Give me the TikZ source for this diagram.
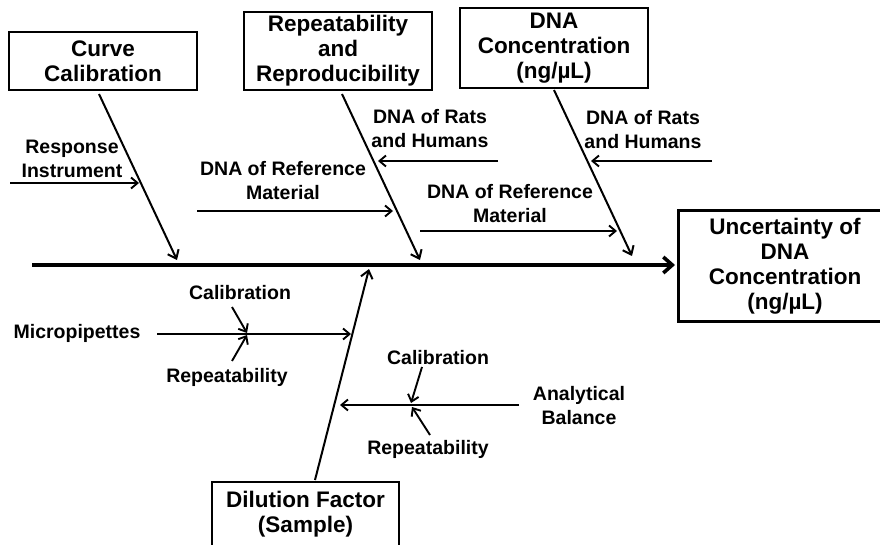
\documentclass[tikz,border=0pt]{standalone}
\usepackage{fontspec}
\setmainfont{Liberation Sans}
\usetikzlibrary{arrows.meta}
\begin{document}
\begin{tikzpicture}[x=1pt,y=-1pt,
  boxfont/.style={font=\fontsize{22.5}{25}\selectfont\bfseries},
  labfont/.style={font=\fontsize{19.5}{24}\selectfont\bfseries},
  causebox/.style={draw, line width=2.3pt, boxfont, align=center, inner sep=0pt},
  lab/.style={labfont, align=center, inner sep=0pt},
  bone/.style={line width=2pt, -{Straight Barb[length=7.5pt,width=12pt]}},
  sub/.style={line width=1.9pt, -{Straight Barb[length=6.5pt,width=11pt]}},
  spine/.style={line width=3.6pt, -{Straight Barb[length=9pt,width=16pt]}}
]
\useasboundingbox (0,0) rectangle (880,545);
\clip (0,0) rectangle (880,545);
\fill[white] (0,0) rectangle (880,545);

% boxes
\node[causebox, minimum width=188pt, minimum height=58pt] (cc) at (103,61) {Curve\\Calibration};
\node[causebox, minimum width=188pt, minimum height=78pt] (rr) at (338,51) {Repeatability\\and\\Reproducibility};
\node[causebox, minimum width=188pt, minimum height=80pt] (dc) at (554,48) {DNA\\Concentration\\(ng/µL)};
\node[causebox, line width=3pt, minimum width=214pt, minimum height=110pt] (eff) at (785,266) {Uncertainty of\\DNA\\Concentration\\(ng/µL)};
\node[causebox, minimum width=187pt, minimum height=65pt] (df) at (305.5,514.5) {Dilution Factor\\(Sample)};

% spine
\coordinate (sp0) at (32,265);
\coordinate (sp1) at (675,265);
\draw[spine] (sp0) -- (sp1);

% main bones
\coordinate (ccA) at (99,94);   \coordinate (ccB) at (177,260);
\coordinate (rrA) at (342,94);  \coordinate (rrB) at (420,260);
\coordinate (dcA) at (554,90);  \coordinate (dcB) at (632,256);
\coordinate (dfA) at (315,480); \coordinate (dfB) at (369,269);
\draw[bone] (ccA) -- (ccB);
\draw[bone] (rrA) -- (rrB);
\draw[bone] (dcA) -- (dcB);
\draw[bone] (dfA) -- (dfB);

% sub causes, top
\node[lab] (ri) at (72,159) {Response\\Instrument};
\coordinate (riA) at (10,183); \coordinate (riB) at (139,183);
\draw[sub] (riA) -- (riB);

\node[lab] (drm1) at (283,181) {DNA of Reference\\Material};
\coordinate (drm1A) at (197,211); \coordinate (drm1B) at (393,211);
\draw[sub] (drm1A) -- (drm1B);

\node[lab] (drh1) at (430,129) {DNA of Rats\\and Humans};
\coordinate (drh1A) at (498,161); \coordinate (drh1B) at (378,161);
\draw[sub] (drh1A) -- (drh1B);

\node[lab] (drm2) at (510,204) {DNA of Reference\\Material};
\coordinate (drm2A) at (420,231); \coordinate (drm2B) at (617,231);
\draw[sub] (drm2A) -- (drm2B);

\node[lab] (drh2) at (643,130) {DNA of Rats\\and Humans};
\coordinate (drh2A) at (712,161); \coordinate (drh2B) at (591,161);
\draw[sub] (drh2A) -- (drh2B);

% sub causes, bottom
\node[lab] (mp) at (77,333) {Micropipettes};
\coordinate (mpA) at (157,334); \coordinate (mpB) at (351,334);
\draw[sub] (mpA) -- (mpB);

\node[lab] (cal1) at (240,293) {Calibration};
\coordinate (cal1A) at (232,307); \coordinate (cal1B) at (247,333);
\draw[sub] (cal1A) -- (cal1B);
\node[lab] (rep1) at (227,377) {Repeatability};
\coordinate (rep1A) at (232,361); \coordinate (rep1B) at (247,335);
\draw[sub] (rep1A) -- (rep1B);

\node[lab] (ab) at (579,406) {Analytical\\Balance};
\coordinate (abA) at (519,405); \coordinate (abB) at (340,405);
\draw[sub] (abA) -- (abB);

\node[lab] (cal2) at (438,358) {Calibration};
\coordinate (cal2A) at (422,367); \coordinate (cal2B) at (411,403);
\draw[sub] (cal2A) -- (cal2B);
\node[lab] (rep2) at (428,449) {Repeatability};
\coordinate (rep2A) at (430,435); \coordinate (rep2B) at (412,407);
\draw[sub] (rep2A) -- (rep2B);
\end{tikzpicture}
\end{document}
